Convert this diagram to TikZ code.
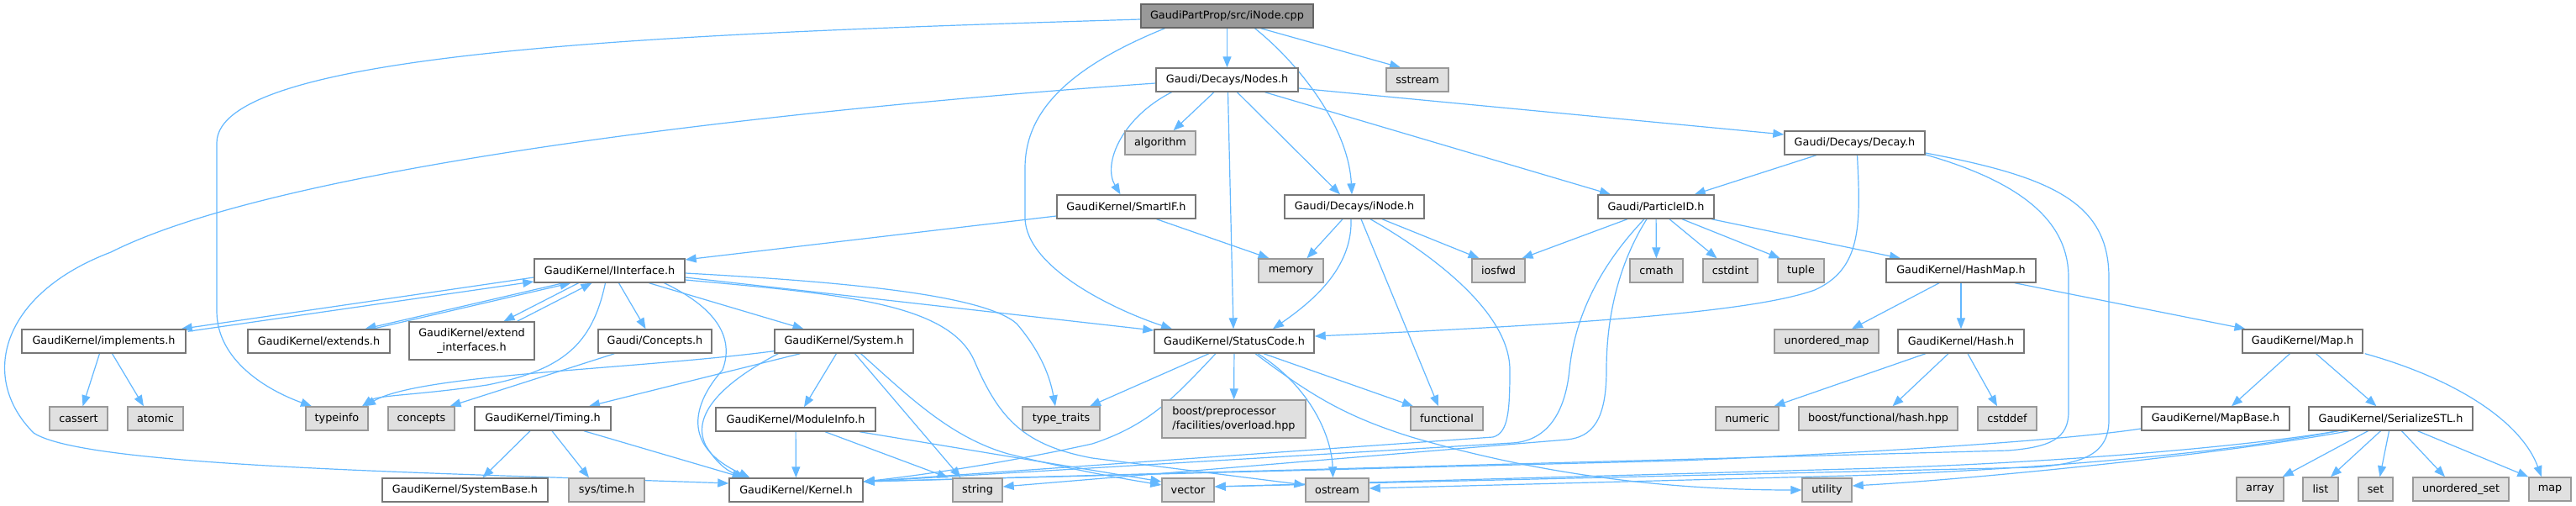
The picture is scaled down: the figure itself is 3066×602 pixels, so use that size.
\documentclass[tikz,border=0pt]{standalone}
\usepackage{fontspec}
\setmainfont{DejaVu Sans}
\usetikzlibrary{arrows.meta,calc}
\definecolor{eblue}{HTML}{63B8FF}
\definecolor{gfill}{HTML}{E0E0E0}
\definecolor{gborder}{HTML}{999999}
\definecolor{wborder}{HTML}{777777}
\definecolor{rfill}{HTML}{999999}
\definecolor{rborder}{HTML}{666666}
\pgfdeclarelayer{bg}
\pgfsetlayers{bg,main}
\tikzset{
 base/.style={draw, line width=1.4pt, minimum height=28pt, inner sep=0pt, font=\fontsize{12.8}{16.5}\selectfont, text=black},
 wbox/.style={base, draw=wborder, fill=white},
 gbox/.style={base, draw=gborder, fill=gfill},
 rbox/.style={base, draw=rborder, fill=rfill},
 e/.style={draw=eblue, line width=1.2pt, -{Triangle[length=13pt,width=10pt]}},
}
\begin{document}
\begin{tikzpicture}[x=1pt,y=-1pt]
\useasboundingbox (0,0) rectangle (3066,602);
% row 1
\node[rbox, minimum width=205pt] (root) at (1460.5,19) {GaudiPartProp/src/iNode.cpp};
% row 2
\node[wbox, minimum width=169pt] (nodes) at (1460.5,95) {Gaudi/Decays/Nodes.h};
\node[gbox, minimum width=74pt] (sstream) at (1687,95) {sstream};
% row 3
\node[gbox, minimum width=84pt] (algorithm) at (1381,170) {algorithm};
\node[wbox, minimum width=167pt] (decay) at (2207.5,170) {Gaudi/Decays/Decay.h};
% row 4
\node[wbox, minimum width=165pt] (smartif) at (1340.5,246) {GaudiKernel/SmartIF.h};
\node[wbox, minimum width=166pt] (inodeh) at (1612,246) {Gaudi/Decays/iNode.h};
\node[wbox, minimum width=138pt] (pid) at (1971,246) {Gaudi/ParticleID.h};
% row 5
\node[wbox, minimum width=179pt] (iinterface) at (725.5,322) {GaudiKernel/IInterface.h};
\node[gbox, minimum width=77pt] (memory) at (1536.5,322) {memory};
\node[gbox, minimum width=63pt] (iosfwd) at (1783.5,322) {iosfwd};
\node[gbox, minimum width=63pt] (cmath) at (1971.5,322) {cmath};
\node[gbox, minimum width=65pt] (cstdint) at (2059.5,322) {cstdint};
\node[gbox, minimum width=55pt] (tuple) at (2143.5,322) {tuple};
\node[wbox, minimum width=178pt] (hashmap) at (2334,322) {GaudiKernel/HashMap.h};
% row 6
\node[wbox, minimum width=195pt] (implements) at (123.5,406) {GaudiKernel/implements.h};
\node[wbox, minimum width=169pt] (extends) at (379.5,406) {GaudiKernel/extends.h};
\node[wbox, minimum width=149pt, minimum height=45pt, align=center] (extendif) at (561.5,405.5) {GaudiKernel/extend\\\_interfaces.h};
\node[wbox, minimum width=135pt] (conceptsh) at (779.5,406) {Gaudi/Concepts.h};
\node[wbox, minimum width=165pt] (system) at (1004.5,406) {GaudiKernel/System.h};
\node[wbox, minimum width=190pt] (statuscode) at (1469,406) {GaudiKernel/StatusCode.h};
\node[gbox, minimum width=124pt] (umap) at (2174,406) {unordered\_map};
\node[wbox, minimum width=150pt] (hash) at (2334,406) {GaudiKernel/Hash.h};
\node[wbox, minimum width=143pt] (maph) at (2740.5,406) {GaudiKernel/Map.h};
% row 7
\node[gbox, minimum width=69pt] (cassert) at (93.5,498) {cassert};
\node[gbox, minimum width=66pt] (atomic) at (185,498) {atomic};
\node[gbox, minimum width=74pt] (typeinfo) at (401,498) {typeinfo};
\node[gbox, minimum width=79pt] (concepts) at (501.5,498) {concepts};
\node[wbox, minimum width=162pt] (timing) at (646,498) {GaudiKernel/Timing.h};
\node[wbox, minimum width=190pt] (moduleinfo) at (947,499) {GaudiKernel/ModuleInfo.h};
\node[gbox, minimum width=92pt] (typetraits) at (1263,498) {type\_traits};
\node[gbox, minimum width=171pt, minimum height=45pt, align=left] (boostpp) at (1468.5,498.5) {boost/preprocessor\\/facilities/overload.hpp};
\node[gbox, minimum width=86pt] (functional) at (1722,498) {functional};
\node[gbox, minimum width=75pt] (numeric) at (2079.5,498) {numeric};
\node[gbox, minimum width=189pt] (boosthash) at (2235.5,498) {boost/functional/hash.hpp};
\node[gbox, minimum width=70pt] (cstddef) at (2389,498) {cstddef};
\node[wbox, minimum width=176pt] (mapbase) at (2637,498) {GaudiKernel/MapBase.h};
\node[wbox, minimum width=195pt] (serialize) at (2845.5,498) {GaudiKernel/SerializeSTL.h};
% row 8
\node[wbox, minimum width=197pt] (systembase) at (553.5,583) {GaudiKernel/SystemBase.h};
\node[gbox, minimum width=90pt] (systime) at (722,583) {sys/time.h};
\node[wbox, minimum width=159pt] (kernel) at (947.5,583) {GaudiKernel/Kernel.h};
\node[gbox, minimum width=59pt] (string) at (1163.5,583) {string};
\node[gbox, minimum width=62pt] (vector) at (1414,583) {vector};
\node[gbox, minimum width=75pt] (ostream) at (1591.5,583) {ostream};
\node[gbox, minimum width=59pt] (utility) at (2174.5,583) {utility};
\node[gbox, minimum width=56pt] (array) at (2690,582) {array};
\node[gbox, minimum width=42pt] (list) at (2762,582) {list};
\node[gbox, minimum width=41pt] (set) at (2827.5,582) {set};
\node[gbox, minimum width=114pt] (uset) at (2929,582) {unordered\_set};
\node[gbox, minimum width=50pt] (map) at (3035,582) {map};

\begin{pgfonlayer}{bg}
\fill[white] (0,0) rectangle (3066,602);
% root
\draw[e] (root) -- (nodes);
\draw[e] ($(root.south)+(40,0)$) -- ($(sstream.north)+(-20,0)$);
\draw[e] ($(root.south)+(33,0)$) .. controls (1545,75) and (1605,150) .. ($(inodeh.north)+(-3,0)$);
\draw[e] ($(root.south)+(-74,0)$) .. controls (1260,85) and (1220,140) .. (1220,200) -- (1220,260) .. controls (1222,320) and (1330,370) .. ($(statuscode.north)+(-74,0)$);
\draw[e] ($(root.west)+(0,4)$) .. controls (800,40) and (258,60) .. (258,170) -- (258,370) .. controls (258,430) and (320,465) .. ($(typeinfo.north)+(-30,0)$);
% nodes
\draw[e] ($(nodes.west)+(0,4)$) .. controls (1000,125) and (350,190) .. (132,300) .. controls (0,350) and (-25,450) .. (40,515) .. controls (100,555) and (500,562) .. ($(kernel.west)+(0,-8)$);
\draw[e] (nodes) -- (algorithm);
\draw[e] ($(nodes.south)+(-66,0)$) .. controls (1335,140) and (1312,195) .. ($(smartif.north)+(-7,0)$);
\draw[e] ($(nodes.south)+(1,0)$) -- ($(statuscode.north)+(-1,0)$);
\draw[e] ($(nodes.south)+(12,0)$) -- ($(inodeh.north)+(-17,0)$);
\draw[e] ($(nodes.south)+(45,0)$) -- ($(pid.north)+(-54,0)$);
\draw[e] ($(nodes.east)+(0,10)$) -- ($(decay.west)+(0,-10)$);
% smartif
\draw[e] ($(smartif.west)+(0,11)$) -- ($(iinterface.east)+(0,-13)$);
\draw[e] ($(smartif.south)+(36,0)$) -- ($(memory.north)+(-26,0)$);
% inode.h
\draw[e] ($(inodeh.south)+(-14,0)$) -- ($(memory.north)+(19,0)$);
\draw[e] ($(inodeh.south)+(-4,0)$) .. controls (1610,320) and (1560,360) .. ($(statuscode.north)+(46,0)$);
\draw[e] ($(inodeh.south)+(8,0)$) -- ($(functional.north)+(-10,0)$);
\draw[e] ($(inodeh.south)+(33,0)$) -- ($(iosfwd.north)+(-23,0)$);
\draw[e] ($(inodeh.south)+(19,0)$) .. controls (1700,300) and (1797,370) .. (1797,440) .. controls (1797,490) and (1795,515) .. (1777,520) -- ($(kernel.east)+(0,-10)$);
% ParticleID
\draw[e] (pid) -- (cmath);
\draw[e] ($(pid.south)+(16,0)$) -- ($(cstdint.north)+(-16,0)$);
\draw[e] ($(pid.south)+(31,0)$) -- ($(tuple.north)+(-25,0)$);
\draw[e] ($(pid.south)+(66,0)$) -- ($(hashmap.north)+(-72,0)$);
\draw[e] ($(pid.south)+(-34,0)$) -- ($(iosfwd.north)+(28,0)$);
\draw[e] ($(pid.south)+(-14,0)$) .. controls (1910,310) and (1875,370) .. (1868,440) .. controls (1862,500) and (1835,525) .. (1800,527) -- ($(kernel.east)+(0,-10)$);
\draw[e] ($(pid.south)+(-11,0)$) .. controls (1935,300) and (1912,360) .. (1912,440) .. controls (1912,500) and (1895,520) .. (1865,523) -- ($(string.east)+(0,-4)$);
% Decay
\draw[e] (decay) -- (pid);
\draw[e] ($(decay.south)+(3,0)$) .. controls (2215,270) and (2215,320) .. (2160,345) .. controls (2090,370) and (1900,385) .. ($(statuscode.east)+(0,-6)$);
\draw[e] ($(decay.east)+(0,14)$) .. controls (2400,215) and (2462,260) .. (2462,330) -- (2462,490) .. controls (2462,522) and (2440,532) .. (2390,536) -- ($(kernel.east)+(0,-10)$);
\draw[e] ($(decay.east)+(0,12)$) .. controls (2440,210) and (2510,240) .. (2510,330) -- (2510,500) .. controls (2510,540) and (2480,552) .. (2420,556) -- ($(vector.east)+(0,-4)$);
% HashMap, Hash, Map
\draw[e] ($(hashmap.south)+(-26,0)$) -- ($(umap.north)+(30,0)$);
\draw[e] (hashmap) -- (hash);
\draw[e] ($(hashmap.south)+(64,0)$) -- ($(maph.north)+(-68,0)$);
\draw[e] ($(hash.south)+(-42,0)$) -- ($(numeric.north)+(32,0)$);
\draw[e] ($(hash.south)+(-15,0)$) -- ($(boosthash.north)+(17,0)$);
\draw[e] ($(hash.south)+(8,0)$) -- ($(cstddef.north)+(-12,0)$);
\draw[e] ($(maph.south)+(-15,0)$) -- ($(mapbase.north)+(19,0)$);
\draw[e] ($(maph.south)+(16,0)$) -- ($(serialize.north)+(-17,0)$);
\draw[e] ($(maph.south east)+(2,0)$) .. controls (2920,450) and (3000,500) .. ($(map.north)+(-10,0)$);
% SerializeSTL
\draw[e] ($(serialize.south)+(-27,0)$) -- ($(array.north east)+(-2,0)$);
\draw[e] ($(serialize.south)+(-12,0)$) -- ($(list.north)+(12,0)$);
\draw[e] ($(serialize.south)+(-2,0)$) -- ($(set.north)+(5,0)$);
\draw[e] ($(serialize.south)+(13,0)$) -- ($(uset.north)+(-19,0)$);
\draw[e] ($(serialize.south)+(32,0)$) -- (map.north west);
\draw[e] ($(serialize.south)+(-50,0)$) .. controls (2650,540) and (2350,570) .. ($(utility.east)+(0,-5)$);
\draw[e] ($(serialize.south)+(-64,0)$) .. controls (2650,540) and (2400,560) .. (2200,566) -- ($(ostream.east)+(0,-2)$);
\draw[e] ($(serialize.south)+(-62,0)$) .. controls (2650,535) and (2400,553) .. (2200,558) -- ($(vector.east)+(0,-4)$);
% MapBase
\draw[e] ($(mapbase.west)+(0,12)$) .. controls (2450,525) and (2200,540) .. (2000,548) -- ($(kernel.east)+(0,-10)$);
% StatusCode
\draw[e] ($(statuscode.south)+(-30,0)$) -- ($(typetraits.north)+(34,0)$);
\draw[e] (statuscode) -- (boostpp);
\draw[e] ($(statuscode.south)+(35,0)$) -- ($(functional.north)+(-40,0)$);
\draw[e] ($(statuscode.south)+(28,0)$) .. controls (1560,460) and (1585,520) .. ($(ostream.north)+(-5,0)$);
\draw[e] ($(statuscode.south)+(25,0)$) .. controls (1560,470) and (1600,495) .. (1680,520) .. controls (1800,555) and (1950,583) .. (utility.west);
\draw[e] ($(statuscode.south)+(-22,0)$) .. controls (1400,470) and (1370,505) .. (1300,528) .. controls (1200,550) and (1100,565) .. ($(kernel.east)+(0,-10)$);
% IInterface
\draw[e] ($(iinterface.west)+(0,8)$) -- ($(implements.north east)+(-6,0)$);
\draw[e] ($(implements.north east)+(2,3)$) -- ($(iinterface.west)+(0,13)$);
\draw[e] ($(iinterface.south)+(-55,0)$) -- ($(extends.north)+(55,0)$);
\draw[e] ($(extends.north)+(64,0)$) -- ($(iinterface.south)+(-46,0)$);
\draw[e] ($(iinterface.south)+(-37,0)$) -- ($(extendif.north)+(38,0)$);
\draw[e] ($(extendif.north)+(54,0)$) -- ($(iinterface.south)+(-21,0)$);
\draw[e] ($(iinterface.south)+(11,0)$) -- ($(conceptsh.north)+(-11,0)$);
\draw[e] ($(iinterface.south)+(47,0)$) -- ($(system.north)+(-48,0)$);
\draw[e] ($(iinterface.south)+(-5,0)$) .. controls (705,410) and (670,440) .. (580,458) .. controls (500,470) and (450,470) .. ($(typeinfo.north)+(30,0)$);
\draw[e] ($(iinterface.south)+(65,0)$) .. controls (850,365) and (875,400) .. (860,440) .. controls (825,480) and (810,530) .. ($(kernel.north)+(-55,0)$);
\draw[e] ($(iinterface.east)+(0,8)$) -- ($(statuscode.west)+(0,-13)$);
\draw[e] ($(iinterface.east)+(0,3)$) .. controls (1000,335) and (1170,350) .. (1210,385) .. controls (1240,420) and (1250,450) .. ($(typetraits.north)+(-7,0)$);
\draw[e] ($(iinterface.east)+(0,11)$) .. controls (1000,350) and (1130,360) .. (1160,430) .. controls (1190,500) and (1220,530) .. (1300,545) -- ($(ostream.west)+(0,-6)$);
% System
\draw[e] ($(system.south west)+(0,-3)$) .. controls (750,440) and (500,445) .. ($(typeinfo.north)+(33,0)$);
\draw[e] ($(system.south)+(-52,0)$) -- ($(timing.north)+(55,0)$);
\draw[e] ($(system.south)+(-9,0)$) -- ($(moduleinfo.north)+(10,0)$);
\draw[e] ($(system.south west)+(5,0)$) .. controls (870,450) and (820,490) .. (840,530) .. controls (855,555) and (870,562) .. ($(kernel.north)+(-60,0)$);
\draw[e] ($(system.south)+(13,0)$) -- ($(string.north)+(-20,0)$);
\draw[e] ($(system.south)+(20,0)$) .. controls (1080,470) and (1130,520) .. (1200,540) .. controls (1280,560) and (1340,570) .. ($(vector.west)+(0,-6)$);
% ModuleInfo
\draw[e] (moduleinfo) -- (kernel);
\draw[e] ($(moduleinfo.south)+(35,0)$) -- ($(string.north)+(-35,0)$);
\draw[e] ($(moduleinfo.south)+(76,0)$) -- ($(vector.west)+(0,-10)$);
% Timing
\draw[e] ($(timing.south)+(-15,0)$) -- ($(systembase.north)+(21,0)$);
\draw[e] ($(timing.south)+(11,0)$) -- ($(systime.north)+(-21,0)$);
\draw[e] ($(timing.south)+(49,0)$) -- ($(kernel.north)+(-63,0)$);
% implements, Concepts
\draw[e] ($(implements.south)+(-5,0)$) -- ($(cassert.north)+(5,0)$);
\draw[e] ($(implements.south)+(10,0)$) -- ($(atomic.north)+(-14,0)$);
\draw[e] ($(conceptsh.south)+(-48,0)$) -- ($(concepts.north)+(34,0)$);
\end{pgfonlayer}
\end{tikzpicture}
\end{document}
